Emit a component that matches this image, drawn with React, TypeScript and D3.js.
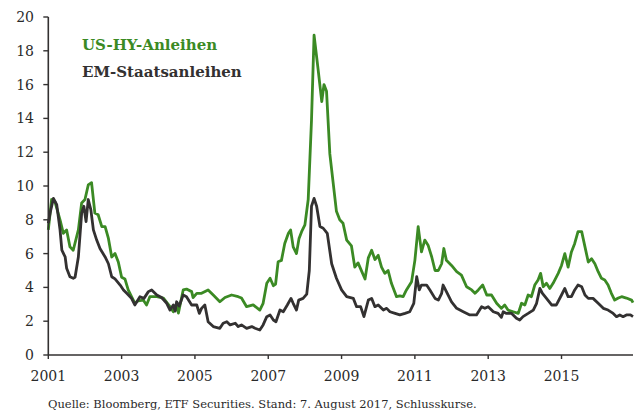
import React from "react";
import * as d3 from "d3";

const hyYears = [2001.00,2001.09,2001.18,2001.32,2001.41,2001.50,2001.59,2001.68,2001.82,2001.91,2002.00,2002.09,2002.18,2002.27,2002.36,2002.46,2002.55,2002.64,2002.73,2002.82,2002.91,2003.00,2003.09,2003.18,2003.27,2003.36,2003.45,2003.59,2003.68,2003.77,2003.96,2004.14,2004.32,2004.41,2004.50,2004.55,2004.68,2004.77,2004.91,2004.95,2005.05,2005.18,2005.36,2005.50,2005.68,2005.82,2006.00,2006.18,2006.27,2006.41,2006.59,2006.77,2006.86,2006.96,2007.05,2007.14,2007.20,2007.27,2007.36,2007.45,2007.55,2007.61,2007.68,2007.77,2007.84,2007.91,2008.00,2008.09,2008.18,2008.25,2008.36,2008.46,2008.52,2008.59,2008.68,2008.77,2008.86,2008.95,2009.04,2009.14,2009.27,2009.36,2009.45,2009.55,2009.64,2009.73,2009.82,2009.91,2010.00,2010.09,2010.18,2010.27,2010.36,2010.50,2010.59,2010.68,2010.77,2010.91,2011.00,2011.09,2011.18,2011.27,2011.36,2011.46,2011.55,2011.64,2011.73,2011.79,2011.86,2012.00,2012.14,2012.27,2012.41,2012.55,2012.64,2012.73,2012.85,2012.96,2013.09,2013.23,2013.36,2013.45,2013.54,2013.68,2013.82,2013.91,2014.00,2014.09,2014.18,2014.27,2014.36,2014.43,2014.50,2014.59,2014.68,2014.77,2014.91,2015.00,2015.09,2015.18,2015.27,2015.36,2015.45,2015.55,2015.64,2015.73,2015.82,2015.91,2016.00,2016.09,2016.18,2016.27,2016.36,2016.45,2016.55,2016.64,2016.77,2016.91,2016.95];
const hyValues = [7.4,9.2,9.07,8.0,7.2,7.4,6.4,6.2,7.4,9.0,9.2,10.06,10.2,8.4,8.3,7.6,7.6,6.9,5.8,6.0,5.5,4.6,4.5,3.85,3.45,3.07,3.2,3.25,2.96,3.45,3.45,3.37,2.86,2.56,2.86,2.48,3.85,3.9,3.75,3.4,3.65,3.65,3.85,3.55,3.15,3.4,3.55,3.45,3.37,2.86,2.96,2.66,3.06,4.24,4.54,4.1,4.2,5.52,5.6,6.6,7.2,7.4,6.4,6.0,6.9,7.3,7.7,9.2,13.9,18.93,16.9,15.0,16.0,15.6,11.9,10.2,8.5,8.0,7.8,6.8,6.45,5.2,5.45,4.95,4.5,5.75,6.2,5.65,5.9,5.2,4.83,5.0,4.24,3.45,3.5,3.45,3.85,4.34,5.6,7.6,6.1,6.8,6.5,5.8,5.0,5.0,5.4,6.3,5.6,5.3,4.93,4.73,4.04,3.85,3.65,3.85,4.14,3.55,3.55,3.06,2.76,2.96,2.66,2.56,2.46,3.06,2.96,3.55,3.45,4.14,4.44,4.83,4.04,4.24,3.94,4.24,4.83,5.3,6.0,5.2,6.1,6.6,7.3,7.3,6.4,5.5,5.7,5.4,4.93,4.54,4.44,4.14,3.65,3.25,3.37,3.45,3.37,3.25,3.1];

const emYears = [2001.00,2001.05,2001.14,2001.23,2001.32,2001.37,2001.46,2001.50,2001.59,2001.68,2001.73,2001.82,2001.91,2001.97,2002.03,2002.09,2002.16,2002.23,2002.32,2002.41,2002.55,2002.64,2002.73,2002.82,2002.96,2003.05,2003.14,2003.27,2003.36,2003.50,2003.61,2003.73,2003.82,2003.96,2004.09,2004.23,2004.32,2004.41,2004.46,2004.50,2004.57,2004.68,2004.77,2004.91,2005.05,2005.12,2005.18,2005.27,2005.36,2005.50,2005.68,2005.77,2005.87,2005.96,2006.10,2006.18,2006.27,2006.41,2006.55,2006.64,2006.77,2006.86,2006.96,2007.05,2007.14,2007.21,2007.32,2007.41,2007.52,2007.62,2007.68,2007.77,2007.83,2007.95,2008.05,2008.12,2008.18,2008.25,2008.32,2008.41,2008.50,2008.61,2008.73,2008.86,2009.00,2009.14,2009.32,2009.41,2009.52,2009.61,2009.73,2009.82,2009.91,2010.00,2010.14,2010.23,2010.32,2010.46,2010.59,2010.73,2010.86,2010.97,2011.05,2011.12,2011.18,2011.32,2011.41,2011.55,2011.64,2011.73,2011.77,2011.86,2012.00,2012.14,2012.32,2012.50,2012.68,2012.82,2012.91,2013.00,2013.14,2013.27,2013.36,2013.41,2013.50,2013.64,2013.77,2013.86,2013.95,2014.09,2014.23,2014.32,2014.41,2014.48,2014.59,2014.73,2014.86,2015.00,2015.09,2015.18,2015.27,2015.36,2015.45,2015.55,2015.64,2015.73,2015.86,2016.00,2016.14,2016.27,2016.41,2016.50,2016.59,2016.68,2016.77,2016.88,2016.95];
const emValues = [7.8,8.4,9.27,8.9,7.4,6.2,5.8,5.13,4.63,4.54,4.6,5.8,8.4,8.8,7.9,9.2,8.6,7.4,6.8,6.3,5.8,5.4,4.63,4.5,4.14,3.85,3.65,3.35,2.96,3.45,3.35,3.75,3.85,3.55,3.4,3.06,2.66,2.96,2.6,3.15,2.9,3.55,3.45,2.96,2.96,2.46,2.76,2.96,1.97,1.68,1.58,1.88,1.97,1.78,1.88,1.68,1.78,1.58,1.68,1.58,1.48,1.78,2.27,2.37,2.07,1.97,2.66,2.56,2.96,3.35,3.06,2.66,3.25,3.35,3.6,5.0,8.8,9.27,8.8,7.6,7.5,7.2,5.4,4.54,3.85,3.45,3.35,2.86,2.86,2.27,3.25,3.35,2.86,2.96,2.66,2.76,2.56,2.46,2.37,2.46,2.56,3.06,4.63,3.85,4.14,4.14,3.85,3.35,3.25,3.65,4.14,3.75,3.15,2.76,2.56,2.37,2.37,2.86,2.76,2.86,2.56,2.46,2.23,2.56,2.46,2.46,2.17,2.07,2.27,2.46,2.66,3.06,3.94,3.65,3.35,2.96,2.96,3.55,3.94,3.45,3.45,3.85,4.14,4.04,3.55,3.35,3.35,3.06,2.76,2.66,2.46,2.27,2.37,2.27,2.37,2.37,2.27];

const yTicks = [0, 2, 4, 6, 8, 10, 12, 14, 16, 18, 20];
const xTicks = [2001, 2003, 2005, 2007, 2009, 2011, 2013, 2015];
const seriesNames = ["US-HY-Anleihen", "EM-Staatsanleihen"];
const sourceNote = "Quelle: Bloomberg, ETF Securities. Stand: 7. August 2017, Schlusskurse.";

const W = 643, H = 410;
const left = 48.3, right = 633, top = 17, bottom = 355;
const GREEN = "#3b8a24";
const DARK = "#333131";
const FONT = "'DejaVu Serif', Georgia, serif";

export default function App() {
  const x = d3.scaleLinear().domain([2001, 2016.95]).range([left, right]);
  const y = d3.scaleLinear().domain([0, 20]).range([bottom, top]);
  const line = d3.line<[number, number]>().x(d => x(d[0])).y(d => y(d[1])).curve(d3.curveLinear);
  const hy = hyYears.map((t, i) => [t, hyValues[i]] as [number, number]);
  const em = emYears.map((t, i) => [t, emValues[i]] as [number, number]);

  return (
    <svg width={W} height={H} style={{ position: "absolute", left: 0, top: 0, background: "#fff" }} fontFamily={FONT}>
      <rect width={W} height={H} fill="#fff" />
      <path d={line(hy) || ""} fill="none" stroke={GREEN} strokeWidth={2.8} strokeLinejoin="round" />
      <path d={line(em) || ""} fill="none" stroke={DARK} strokeWidth={2.8} strokeLinejoin="round" />
      <line x1={left} x2={left} y1={top} y2={bottom} stroke={DARK} strokeWidth={1.6} />
      <line x1={left} x2={right} y1={bottom} y2={bottom} stroke={DARK} strokeWidth={1.6} />
      {yTicks.map(t => (
        <g key={"y" + t}>
          <line x1={left - 5} x2={left} y1={y(t)} y2={y(t)} stroke={DARK} strokeWidth={1.4} />
          <text x={34} y={y(t)} dy="0.35em" textAnchor="end" fontSize={14} fill="#2a2a2a">{t}</text>
        </g>
      ))}
      {xTicks.map(t => (
        <g key={"x" + t}>
          <line x1={x(t)} x2={x(t)} y1={bottom} y2={bottom + 4} stroke={DARK} strokeWidth={1.4} />
          <text x={x(t)} y={381} textAnchor="middle" fontSize={14} fill="#2a2a2a">{t}</text>
        </g>
      ))}
      <text x={82} y={50} fontSize={15} fontWeight="bold" fill={GREEN}>{seriesNames[0]}</text>
      <text x={82} y={77} fontSize={15} fontWeight="bold" fill={DARK}>{seriesNames[1]}</text>
      <text x={48} y={408} fontSize={11.5} fill="#2a2a2a">{sourceNote}</text>
    </svg>
  );
}
